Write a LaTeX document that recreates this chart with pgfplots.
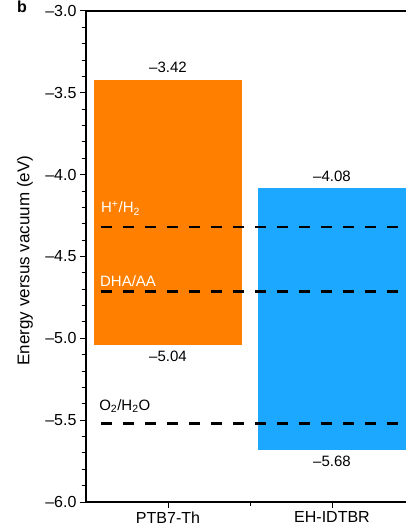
\documentclass[border=0pt]{standalone}
\usepackage{pgfplots}
\pgfplotsset{compat=1.18}
\usepackage{fontspec}
\setmainfont{Liberation Sans}
\definecolor{barorange}{RGB}{255,128,0}
\definecolor{barblue}{RGB}{29,168,255}

\begin{document}
\begin{tikzpicture}[font=\fontsize{15}{18}\selectfont]
\useasboundingbox (-86pt,-30pt) rectangle (319pt,502pt);
\node[anchor=base west, inner sep=0pt, font=\fontsize{16}{18}\selectfont\bfseries] at (-69pt,489pt) {b};
\begin{axis}[
  scale only axis,
  width=325pt, height=491pt,
  at={(0pt,0pt)}, anchor=south west,
  xmin=-0.5, xmax=1.4817, ymin=-6, ymax=-3,
  axis line style={line width=1.2pt},
  tick align=outside,
  xtick pos=left, ytick pos=left,
  major tick length=6pt, minor tick length=4pt,
  every tick/.style={black, line width=1pt},
  ytick={-6,-5.5,-5,-4.5,-4,-3.5,-3},
  yticklabels={–6.0,–5.5,–5.0,–4.5,–4.0,–3.5,–3.0},
  minor y tick num=4,
  xtick={0,1}, xticklabels={PTB7-Th, EH-IDTBR},
  minor xtick={0.5},
  tick label style={font=\fontsize{16}{19}\selectfont},
  ylabel={Energy versus vacuum (eV)},
  every axis y label/.style={at={(axis description cs:0,0.5)}, xshift=-61pt, yshift=-4pt, rotate=90, anchor=center, font=\fontsize{17}{20}\selectfont},
  clip=true,
]
% PTB7-Th: HOMO -5.04, LUMO -3.42
\addplot[fill=barorange, draw=none, forget plot] coordinates {(-0.45,-5.04) (0.45,-5.04) (0.45,-3.42) (-0.45,-3.42)} -- cycle;
% EH-IDTBR: HOMO -5.68, LUMO -4.08
\addplot[fill=barblue, draw=none, forget plot] coordinates {(0.55,-5.68) (1.45,-5.68) (1.45,-4.08) (0.55,-4.08)} -- cycle;
% redox levels
\addplot[black, line width=2.6pt, dash pattern=on 11pt off 11pt, forget plot] coordinates {(-0.41,-4.32) (1.4817,-4.32)};
\addplot[black, line width=2.6pt, dash pattern=on 11pt off 11pt, forget plot] coordinates {(-0.41,-4.715) (1.4817,-4.715)};
\addplot[black, line width=2.6pt, dash pattern=on 11pt off 11pt, forget plot] coordinates {(-0.41,-5.52) (1.4817,-5.52)};
% labels
\node[anchor=base west, inner sep=0pt, text=white] at (axis cs:-0.409,-4.234) {H\textsuperscript{+}/H\textsubscript{2}};
\node[anchor=base west, inner sep=0pt, text=white] at (axis cs:-0.415,-4.686) {DHA/AA};
\node[anchor=base west, inner sep=0pt, text=black] at (axis cs:-0.42,-5.438) {O\textsubscript{2}/H\textsubscript{2}O};
\node[anchor=base, inner sep=0pt, yshift=7pt] at (axis cs:0,-3.42) {–3.42};
\node[anchor=north, inner sep=0pt, yshift=-6pt] at (axis cs:0,-5.04) {–5.04};
\node[anchor=base, inner sep=0pt, yshift=6pt] at (axis cs:1,-4.08) {–4.08};
\node[anchor=north, inner sep=0pt, yshift=-6pt] at (axis cs:1,-5.68) {–5.68};
\end{axis}
\end{tikzpicture}
\end{document}
